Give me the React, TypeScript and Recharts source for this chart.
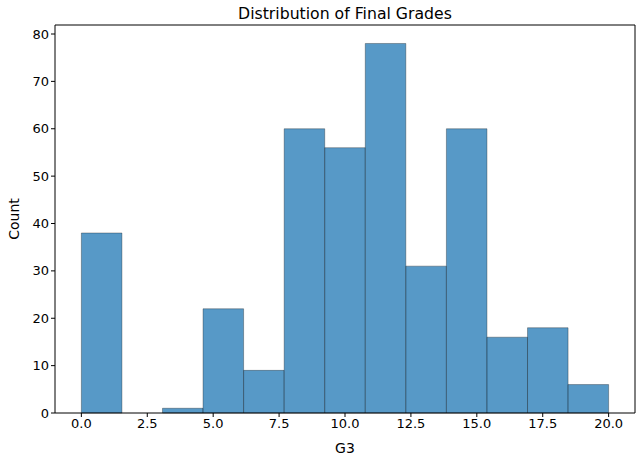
import React from 'react';
import { ComposedChart, XAxis, YAxis, ReferenceArea, ReferenceLine, Line } from 'recharts';

const binStart = 0;
const binEnd = 20;
const counts = [38, 0, 1, 22, 9, 60, 56, 78, 31, 60, 16, 18, 6];
const xTicks = [0, 2.5, 5, 7.5, 10, 12.5, 15, 17.5, 20];
const yTicks = [0, 10, 20, 30, 40, 50, 60, 70, 80];
const xDomain = [-1, 21];
const yDomain = [0, 81.9];

const binWidth = (binEnd - binStart) / counts.length;
const bins = counts.map((c, i) => ({
  x0: binStart + i * binWidth,
  x1: binStart + (i + 1) * binWidth,
  mid: binStart + (i + 0.5) * binWidth,
  count: c,
}));

const font = 'DejaVu Sans';

export default function App() {
  return (
    <div style={{ position: 'absolute', left: 0, top: 0, width: 641, height: 464, background: '#fff', fontFamily: font }}>
      <div style={{ position: 'absolute', left: 55, width: 580, top: 4, textAlign: 'center', fontSize: 15.7, color: '#000' }}>
        Distribution of Final Grades
      </div>
      <ComposedChart width={641} height={464} data={bins} margin={{ top: 25, right: 6, bottom: 0, left: 0 }}>
        <XAxis
          dataKey="mid"
          type="number"
          domain={xDomain}
          ticks={xTicks}
          tickFormatter={(v: number) => v.toFixed(1)}
          tick={{ fill: '#000', fontSize: 13, fontFamily: font }}
          tickLine={{ stroke: '#000' }}
          axisLine={{ stroke: '#000' }}
          tickSize={4}
          height={51}
          interval={0}
          allowDataOverflow
          label={{ value: 'G3', position: 'insideBottom', offset: 11, fill: '#000', fontSize: 14, fontFamily: font }}
        />
        <YAxis
          type="number"
          domain={yDomain}
          ticks={yTicks}
          tick={{ fill: '#000', fontSize: 13, fontFamily: font }}
          tickLine={{ stroke: '#000' }}
          axisLine={{ stroke: '#000' }}
          tickSize={4}
          width={55}
          interval={0}
          allowDataOverflow
          label={{ value: 'Count', angle: -90, position: 'insideLeft', offset: 14, fill: '#000', fontSize: 14, fontFamily: font, style: { textAnchor: 'middle' } }}
        />
        {bins.map((b, i) => (
          <ReferenceArea
            key={i}
            x1={b.x0}
            x2={b.x1}
            y1={0}
            y2={b.count}
            fill="rgb(31,119,180)"
            fillOpacity={0.75}
            stroke="#000"
            strokeOpacity={0.3}
            strokeWidth={1}
            ifOverflow="visible"
          />
        ))}
        <ReferenceLine y={yDomain[1]} stroke="#000" strokeWidth={1} ifOverflow="visible" />
        <ReferenceLine x={xDomain[1]} stroke="#000" strokeWidth={1} ifOverflow="visible" />
        <Line dataKey="count" stroke="none" dot={false} activeDot={false} isAnimationActive={false} legendType="none" />
      </ComposedChart>
    </div>
  );
}
